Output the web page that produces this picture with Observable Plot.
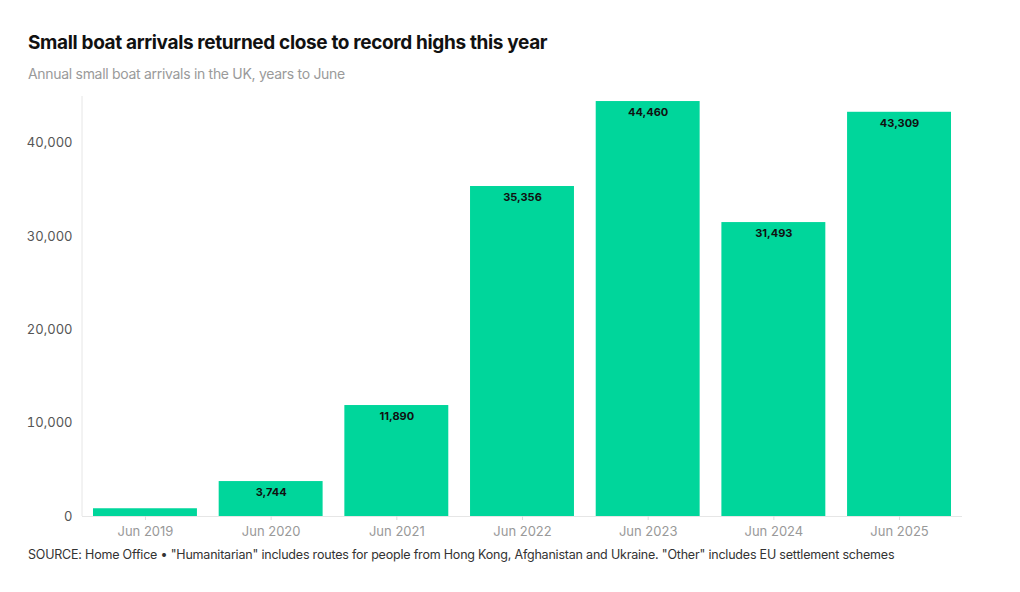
<!DOCTYPE html>
<html><head><meta charset="utf-8">
<script src="https://cdn.jsdelivr.net/npm/d3@7"></script>
<script src="https://cdn.jsdelivr.net/npm/@observablehq/plot@0.6"></script>
<style>
body{margin:0;background:#fff;font-family:Inter,"Noto Sans",sans-serif;}
#wrap{position:relative;width:1020px;height:592px;}
#title{position:absolute;left:28px;top:31px;font-size:19px;font-weight:700;color:#111;letter-spacing:-0.35px;}
#sub{position:absolute;left:28px;top:65px;font-size:14px;color:#9a9a9a;letter-spacing:-0.3px;}
#chart{position:absolute;left:0;top:88px;}
#foot{position:absolute;left:28px;top:547px;font-size:12.5px;color:#333;letter-spacing:-0.2px;}
</style></head>
<body><div id="wrap">
<div id="title">Small boat arrivals returned close to record highs this year</div>
<div id="sub">Annual small boat arrivals in the UK, years to June</div>
<div id="chart"></div>
<div id="foot">SOURCE: Home Office • "Humanitarian" includes routes for people from Hong Kong, Afghanistan and Ukraine. "Other" includes EU settlement schemes</div>
</div>
<script>
const years = ["Jun 2019","Jun 2020","Jun 2021","Jun 2022","Jun 2023","Jun 2024","Jun 2025"];
const arrivals = [830, 3744, 11890, 35356, 44460, 31493, 43309];
const labels = ["", "3,744", "11,890", "35,356", "44,460", "31,493", "43,309"];
const yTicks = [0, 10000, 20000, 30000, 40000];

const data = years.map((y, i) => ({year: y, value: arrivals[i], label: labels[i]}));

const chart = Plot.plot({
  width: 1020, height: 456,
  marginLeft: 82, marginRight: 58, marginTop: 8, marginBottom: 28,
  style: {fontFamily: "Inter, 'Noto Sans', sans-serif", fontSize: "13px", background: "transparent"},
  x: {domain: years, paddingInner: 0.173, paddingOuter: 0.0875, round: false, label: null},
  y: {domain: [0, 45000], label: null},
  marks: [
    Plot.gridY(yTicks, {stroke: "#ebebeb", strokeOpacity: 1, x1: 75}),
    Plot.axisY(yTicks, {tickSize: 0, tickPadding: 10, fill: "#555", fontSize: 13, tickFormat: d3.format(",")}),
    Plot.barY(data, {x: "year", y: "value", fill: "#00d69b"}),
    Plot.ruleY([0], {stroke: "#e6e6e6"}),
    Plot.axisX({tickSize: 4, stroke: "#ddd", tickPadding: 6, fill: "#999", fontSize: 13}),
    Plot.text(data, {x: "year", y: "value", text: "label", dy: 11, fill: "#111", fontWeight: 700, fontSize: 11})
  ]
});
// vertical axis line
const svg = d3.select(chart);
svg.append("line").attr("x1", 82).attr("x2", 82).attr("y1", 8).attr("y2", 428).attr("stroke", "#e6e6e6");
document.getElementById("chart").appendChild(chart);
</script>
</body></html>
